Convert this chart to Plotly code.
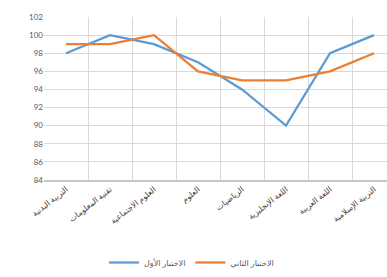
import plotly.graph_objects as go

categories = ["التربية البدنية", "تقنية المعلومات", "العلوم الاجتماعية", "العلوم",
              "الرياضيات", "اللغة الإنجليزية", "اللغة العربية", "التربية الإسلامية"]
test1 = [98, 100, 99, 97, 94, 90, 98, 100]
test2 = [99, 99, 100, 96, 95, 95, 96, 98]
series_names = ["الاختبار الأول", "الاختبار الثاني"]
y_ticks = list(range(84, 103, 2))

fig = go.Figure()
fig.add_trace(go.Scatter(x=categories, y=test1, mode="lines", name=series_names[0],
                         line=dict(color="#5b9bd5", width=2.25)))
fig.add_trace(go.Scatter(x=categories, y=test2, mode="lines", name=series_names[1],
                         line=dict(color="#ed7d31", width=2.25)))

font_family = "Lato, DejaVu Sans, sans-serif"
fig.update_layout(
    width=387, height=277,
    margin=dict(l=44, r=0, t=17, b=94),
    paper_bgcolor="white", plot_bgcolor="white",
    font=dict(family=font_family, size=8, color="#595959"),
    showlegend=True,
    legend=dict(orientation="h", x=0.43, xanchor="center", y=-0.51, yanchor="middle",
                font=dict(size=8, color="#595959"), itemwidth=30,
                traceorder="normal"),
    xaxis=dict(type="category", range=[-0.5, 7.295], tickson="boundaries",
               showgrid=True, gridcolor="#d9d9d9", gridwidth=1, automargin=False,
               tickangle=-38, ticks="", showline=True, linecolor="#c8c8c8",
               linewidth=1.5, zeroline=False,
               tickfont=dict(size=8, color="#3f3f3f")),
    yaxis=dict(range=[84, 102], tickvals=y_ticks, showgrid=True, automargin=False,
               gridcolor="#d9d9d9", gridwidth=1, zeroline=False, ticks="",
               showline=False, tickfont=dict(size=8, color="#595959")),
)

fig.write_html("out.html", config={"displayModeBar": False},
               post_script="document.body.style.margin='0';")
